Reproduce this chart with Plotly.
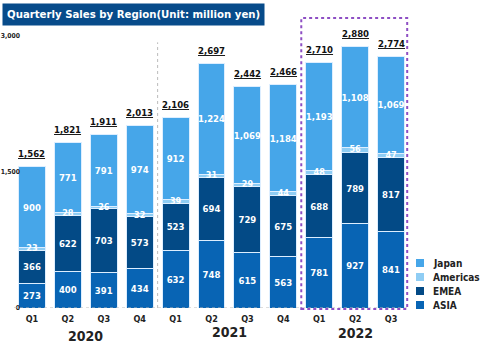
import plotly.graph_objects as go

quarters = ["Q1", "Q2", "Q3", "Q4", "Q1", "Q2", "Q3", "Q4", "Q1", "Q2", "Q3"]
years = ["2020", "2021", "2022"]
asia = [273, 400, 391, 434, 632, 748, 615, 563, 781, 927, 841]
emea = [366, 622, 703, 573, 523, 694, 729, 675, 688, 789, 817]
americas = [23, 28, 26, 32, 39, 31, 29, 44, 48, 56, 47]
japan = [900, 771, 791, 974, 912, 1224, 1069, 1184, 1193, 1108, 1069]
y_ticks = [0, 1500, 3000]

FONT = "DejaVu Sans Condensed"
W, H = 483, 344
L, R, T, B = 14, 74, 36, 36
PW, PH = W - L - R, H - T - B

def px(xp):
    return (xp - L) / PW

def py(yp):
    return (H - B - yp) / PH

x = list(range(len(quarters)))
totals = [a + e + m + j for a, e, m, j in zip(asia, emea, americas, japan)]

series = [
    ("ASIA", asia, "#0864B4"),
    ("EMEA", emea, "#034A86"),
    ("Americas", americas, "#8FCDF4"),
    ("Japan", japan, "#46A6E9"),
]

fig = go.Figure()
for name, vals, color in series:
    inside = name != "Americas"
    fig.add_trace(go.Bar(
        x=x, y=vals, name=name, showlegend=False,
        marker=dict(color=color, line=dict(color="#DDEEFF", width=1)),
        text=[f"{v:,}" for v in vals] if inside else None,
        textposition="inside" if inside else "none",
        insidetextanchor="middle", textangle=0,
        textfont=dict(family=FONT, size=9.5, color="white", weight="bold"),
    ))

# Americas values sit on the thin strip, so place them as text marks
am_mid = [a + e + m / 2 for a, e, m in zip(asia, emea, americas)]
fig.add_trace(go.Scatter(
    x=x, y=am_mid, mode="text", text=[f"{v}" for v in americas],
    textposition="middle center", showlegend=False, hoverinfo="skip",
    textfont=dict(family=FONT, size=9, color="white", weight="bold"),
    cliponaxis=False,
))

# totals above each stack
for xi, t in zip(x, totals):
    fig.add_annotation(x=xi, y=t, text=f"<u>{t:,}</u>", showarrow=False,
                       yanchor="middle", yshift=13,
                       font=dict(family=FONT, size=9.5, color="#111111", weight="bold"))

# year labels under the quarter ticks
year_centers = [1.5, 5.5, 9.0]
year_y = [336, 332, 333]
for xc, yr, yy in zip(year_centers, years, year_y):
    fig.add_annotation(x=xc, y=py(yy), yref="paper", text=f"<b>{yr}</b>",
                       showarrow=False, yanchor="middle",
                       font=dict(family=FONT, size=14, color="#222222"))

# title banner
fig.add_annotation(x=px(2), y=py(3), xref="paper", yref="paper",
                   text="<b>Quarterly Sales by Region(Unit: million yen)</b>",
                   showarrow=False, xanchor="left", yanchor="top",
                   bgcolor="#074B8A", borderpad=4,
                   font=dict(family=FONT, size=11.3, color="white"))

# legend drawn as swatches with labels
legend_items = [("Japan", "#46A6E9"), ("Americas", "#8FCDF4"),
                ("EMEA", "#034A86"), ("ASIA", "#0864B4")]
for i, (name, color) in enumerate(legend_items):
    cy = 263 + i * 14
    fig.add_shape(type="rect", xref="paper", yref="paper",
                  x0=px(416), x1=px(424), y0=py(cy + 4), y1=py(cy - 4),
                  fillcolor=color, line=dict(width=0))
    fig.add_annotation(x=px(431), y=py(cy), xref="paper", yref="paper",
                       text=f"<b>{name}</b>", showarrow=False,
                       xanchor="left", yanchor="middle",
                       font=dict(family=FONT, size=10, color="#222222"))

# separator between 2020 and 2021
fig.add_shape(type="line", x0=3.5, x1=3.5, y0=0, y1=2930,
              line=dict(color="#BBBBBB", width=1, dash="dot"))
# highlight box around 2022
fig.add_shape(type="rect", xref="x", yref="paper",
              x0=7.5, x1=10.45, y0=py(309), y1=py(18),
              line=dict(color="#8E4FC4", width=2, dash="dot"))
# dotted baseline
fig.add_shape(type="line", x0=-0.5, x1=10.5, y0=0, y1=0,
              line=dict(color="#BBBBBB", width=1, dash="dot"))

fig.update_layout(
    width=W, height=H,
    margin=dict(l=L, r=R, t=T, b=B),
    barmode="stack", bargap=0.25,
    plot_bgcolor="white", paper_bgcolor="white",
    font=dict(family=FONT, color="#222222"),
    showlegend=False,
    xaxis=dict(range=[-0.5, 10.5], tickvals=x, ticktext=quarters,
               showgrid=False, zeroline=False, showline=False, ticks="",
               automargin=False, ticklabelstandoff=4,
               tickfont=dict(family=FONT, size=9, color="#222222", weight="bold")),
    yaxis=dict(range=[0, 3000], tickvals=y_ticks,
               ticktext=[f"{v:,}" for v in y_ticks],
               showgrid=False, zeroline=False, showline=False, ticks="",
               automargin=False, ticklabelstandoff=-7,
               tickfont=dict(family=FONT, size=6.8, color="#222222", weight="bold")),
    uniformtext=dict(minsize=8, mode="show"),
)

fig.write_html("out.html")
